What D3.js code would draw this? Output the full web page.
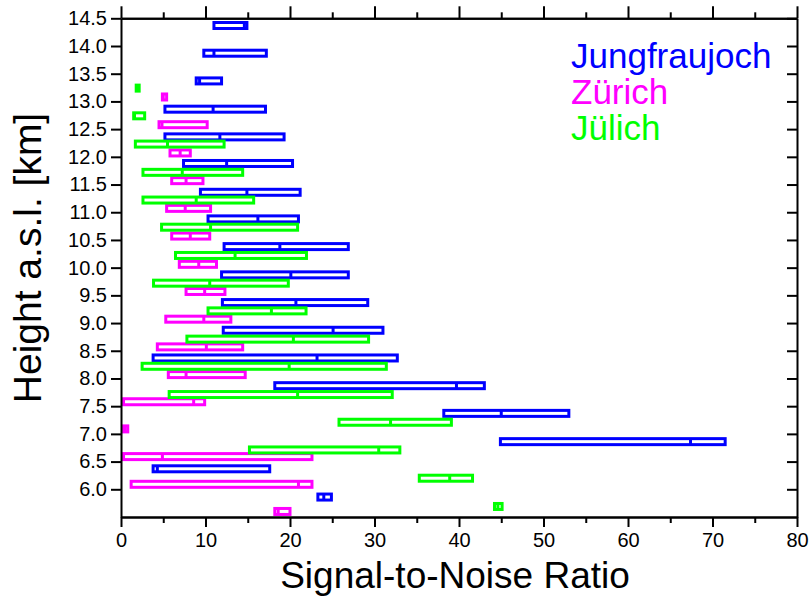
<!DOCTYPE html>
<html>
<head>
<meta charset="utf-8">
<script src="https://cdn.jsdelivr.net/npm/d3@7"></script>
<style>
  html, body { margin: 0; padding: 0; background: #fff; }
  svg { display: block; font-family: "Liberation Sans", Arial, sans-serif; }
</style>
</head>
<body>
<svg id="chart" width="811" height="597"></svg>
<script>
// ---- Data ----
const stations = ["Jungfraujoch", "Zürich", "Jülich"];
const stationColors = ["#0000ff", "#ff00ff", "#00ff00"];

// Jungfraujoch
const jfjHeight = [14.37, 13.87, 13.37, 12.86, 12.36, 11.88, 11.36, 10.88, 10.38, 9.87, 9.37, 8.87, 8.37, 7.87, 7.37, 6.86, 6.37, 5.86];
const jfjMin    = [11.0, 9.8, 8.9, 5.2, 5.2, 7.4, 9.4, 10.3, 12.2, 11.9, 12.0, 12.1, 3.8, 18.2, 38.2, 44.9, 3.8, 23.3];
const jfjMed    = [14.6, 11.0, 9.3, 10.9, 11.7, 12.5, 14.9, 16.2, 18.8, 20.1, 20.7, 25.1, 23.2, 39.7, 45.0, 67.4, 4.3, 24.0];
const jfjMax    = [14.9, 17.2, 11.9, 17.1, 19.3, 20.3, 21.2, 21.0, 26.9, 26.9, 29.2, 31.0, 32.7, 43.0, 53.0, 71.5, 17.6, 24.9];

// Zürich
const zrhHeight = [13.08, 12.58, 12.07, 11.57, 11.07, 10.57, 10.06, 9.57, 9.07, 8.57, 8.07, 7.58, 7.09, 6.59, 6.09, 5.60];
const zrhMin    = [4.9, 4.5, 5.8, 6.0, 5.4, 6.0, 6.9, 7.7, 5.3, 4.3, 5.6, 0.3, 0.3, 0.3, 1.2, 18.2];
const zrhMed    = [5.0, 4.85, 7.0, 7.7, 7.6, 8.2, 9.2, 9.9, 9.8, 10.1, 7.7, 8.6, 0.5, 4.9, 21.0, 18.6];
const zrhMax    = [5.4, 10.2, 8.2, 9.7, 10.6, 10.5, 11.3, 12.3, 13.0, 14.4, 14.7, 9.9, 0.8, 22.6, 22.6, 20.0];

// Jülich
const julHeight = [13.24, 12.74, 12.23, 11.72, 11.22, 10.73, 10.22, 9.72, 9.22, 8.71, 8.22, 7.71, 7.21, 6.71, 6.20, 5.69];
const julMin    = [1.8, 1.5, 1.7, 2.6, 2.6, 4.8, 6.45, 3.85, 10.3, 7.8, 2.5, 5.7, 25.8, 15.2, 35.3, 44.2];
const julMed    = [2.0, 1.6, 5.5, 7.25, 8.9, 10.6, 13.5, 10.5, 17.8, 20.4, 19.9, 20.9, 31.9, 30.5, 38.9, 44.6];
const julMax    = [2.15, 2.8, 12.2, 14.4, 15.7, 20.9, 21.95, 19.8, 21.9, 29.3, 31.4, 32.1, 39.1, 33.0, 41.6, 45.1];

const xTicks = [0, 10, 20, 30, 40, 50, 60, 70, 80];
const xMinorTicks = [5, 15, 25, 35, 45, 55, 65, 75];
const yTicks = [6.0, 6.5, 7.0, 7.5, 8.0, 8.5, 9.0, 9.5, 10.0, 10.5, 11.0, 11.5, 12.0, 12.5, 13.0, 13.5, 14.0, 14.5];

const xTitle = "Signal-to-Noise Ratio";
const yTitle = "Height a.s.l. [km]";

// ---- Build ----
function rows(h, mn, md, mx, s) {
  return h.map((v, i) => ({ h: v, min: mn[i], med: md[i], max: mx[i], s }));
}
const series = [
  rows(jfjHeight, jfjMin, jfjMed, jfjMax, 0),
  rows(zrhHeight, zrhMin, zrhMed, zrhMax, 1),
  rows(julHeight, julMin, julMed, julMax, 2)
];

const L = 121, R = 797, T = 18.3, B = 517;
const svg = d3.select("#chart");
const x = d3.scaleLinear().domain([0, 80]).range([L, R]);
const y = d3.scaleLinear().domain([5.5, 14.5]).range([B, T]);

const barH = 6;
const sw = 3;
const g = svg.append("g");
series.forEach(data => {
  const grp = g.append("g");
  grp.selectAll("rect").data(data).enter().append("rect")
    .attr("x", d => x(d.min))
    .attr("y", d => y(d.h) - barH / 2)
    .attr("width", d => Math.max(0.5, x(d.max) - x(d.min)))
    .attr("height", barH)
    .attr("fill", "none")
    .attr("stroke", d => stationColors[d.s])
    .attr("stroke-width", sw);
  grp.selectAll("line").data(data).enter().append("line")
    .attr("x1", d => x(d.med)).attr("x2", d => x(d.med))
    .attr("y1", d => y(d.h) - barH / 2).attr("y2", d => y(d.h) + barH / 2)
    .attr("stroke", d => stationColors[d.s])
    .attr("stroke-width", sw);
});

// Axes
const axisStyle = sel => {
  sel.attr("font-family", "'Liberation Sans', Arial, sans-serif");
  sel.select(".domain").attr("stroke", "#000").attr("stroke-width", 2);
  sel.selectAll(".tick line").attr("stroke", "#000").attr("stroke-width", 2);
  sel.selectAll(".tick text").attr("fill", "#000").attr("font-size", 20);
};

// bottom
svg.append("g").attr("transform", `translate(0,${B})`)
  .call(d3.axisBottom(x).tickValues(xMinorTicks).tickSize(6).tickFormat("").tickSizeOuter(0))
  .call(axisStyle);
svg.append("g").attr("transform", `translate(0,${B})`)
  .call(d3.axisBottom(x).tickValues(xTicks).tickSize(10).tickPadding(6).tickFormat(d3.format("d")).tickSizeOuter(0))
  .call(axisStyle);
// top
svg.append("g").attr("transform", `translate(0,${T})`)
  .call(d3.axisTop(x).tickValues(xMinorTicks).tickSize(6).tickFormat("").tickSizeOuter(0))
  .call(axisStyle);
svg.append("g").attr("transform", `translate(0,${T})`)
  .call(d3.axisTop(x).tickValues(xTicks).tickSize(12).tickFormat("").tickSizeOuter(0))
  .call(axisStyle);
// left
svg.append("g").attr("transform", `translate(${L},0)`)
  .call(d3.axisLeft(y).tickValues(yTicks).tickSize(10).tickPadding(4).tickFormat(d3.format(".1f")).tickSizeOuter(0))
  .call(axisStyle);
// right (inward ticks)
svg.append("g").attr("transform", `translate(${R},0)`)
  .call(d3.axisLeft(y).tickValues(yTicks).tickSize(0).tickFormat("").tickSizeOuter(0))
  .call(axisStyle)
  .call(s => s.selectAll(".tick line").attr("x1", 0).attr("x2", -10));

// Titles
svg.append("text")
  .attr("x", (L + R) / 2 - 4).attr("y", 588)
  .attr("text-anchor", "middle").attr("font-size", 37).attr("fill", "#000")
  .text(xTitle);
svg.append("text")
  .attr("transform", `translate(41,${258}) rotate(-90)`)
  .attr("text-anchor", "middle").attr("font-size", 39).attr("fill", "#000")
  .text(yTitle);

// Legend (coloured text)
const legY = [68, 104, 140];
const legOrder = [0, 1, 2];
svg.append("g").selectAll("text").data(legOrder).enter().append("text")
  .attr("x", 571).attr("y", (d, i) => legY[i])
  .attr("font-size", 35)
  .attr("fill", d => stationColors[d])
  .text(d => stations[d]);
</script>
</body>
</html>
